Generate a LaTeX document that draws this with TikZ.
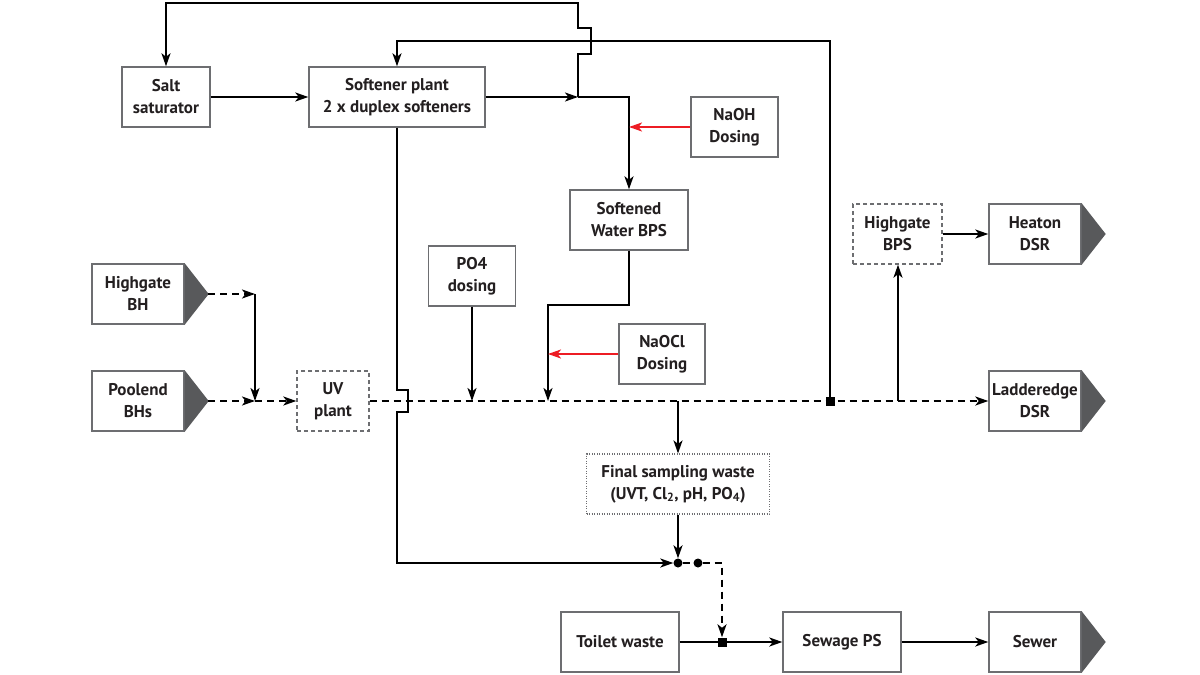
\documentclass[tikz,border=0pt]{standalone}
\usepackage{fontspec}
\setmainfont{PT Sans}
\usetikzlibrary{arrows.meta}
\definecolor{boxgray}{HTML}{6D6E71}
\definecolor{tipgray}{HTML}{58595B}
\definecolor{txt}{HTML}{231F20}
\definecolor{dred}{HTML}{ED1C24}
\begin{document}
\begin{tikzpicture}[x=1pt,y=-1pt,
  lbl/.style={font=\fontsize{17}{22}\selectfont\bfseries, text=txt, align=center, inner sep=0pt},
  box/.style={lbl, draw=boxgray, line width=1.4pt, fill=white, minimum width=#1, minimum height=60pt},
  box/.default=88pt,
  dbox/.style={box=#1, dash pattern=on 4pt off 3pt},
  dbox/.default=72pt,
  dotbox/.style={box=#1, dash pattern=on 1pt off 1.5pt, line width=1.1pt},
  tip/.style={fill=tipgray, draw=none},
  flow/.style={line width=2pt, draw=black, -{Stealth[length=13pt,width=9pt,inset=3.5pt]}},
  plain/.style={line width=2pt, draw=black},
  dflow/.style={flow, dash pattern=on 7pt off 5pt},
  dplain/.style={plain, dash pattern=on 7pt off 5pt},
  rflow/.style={flow, draw=dred, -{Stealth[length=13pt,width=9pt,inset=3.5pt,fill=dred]}},
  sq/.style={fill=black, minimum size=9pt, inner sep=0pt},
  dot/.style={circle, fill=black, minimum size=9pt, inner sep=0pt}
]
\useasboundingbox (0,0) rectangle (1200,675);

% source / sink shapes with tip
\newcommand{\tipat}[1]{\fill[tip] (#1.north east) -- ([xshift=24pt]#1.east) -- (#1.south east) -- cycle;}

\node[box=88pt] (salt) at (166,97) {Salt\\saturator};
\node[box=176pt] (soft) at (397,97) {Softener plant\\2 x duplex softeners};
\node[box=87pt] (naoh) at (734.5,127) {NaOH\\Dosing};
\node[box=118pt] (sbps) at (629,220) {Softened\\Water BPS};
\node[box=87pt] (po4) at (472,276) {PO4\\dosing};
\node[box=86pt] (naocl) at (662,354) {NaOCl\\Dosing};
\node[box=92pt] (hbh) at (138,294) {Highgate\\BH};
\tipat{hbh}
\node[box=92pt] (pbh) at (138,401) {Poolend\\BHs};
\tipat{pbh}
\node[dbox=72pt] (uv) at (333,401) {UV\\plant};
\node[dbox=89pt] (hbps) at (897.5,234) {Highgate\\BPS};
\node[box=92pt] (heat) at (1035,234) {Heaton\\DSR};
\tipat{heat}
\node[box=92pt] (ladd) at (1035,401) {Ladderedge\\DSR};
\tipat{ladd}
\node[dotbox=183pt] (fsw) at (678,484) {Final sampling waste\\(UVT, Cl\textsubscript{2}, pH, PO\textsubscript{4})};
\node[box=118pt] (toil) at (620,642) {Toilet waste};
\node[box=118pt] (sps) at (842,642) {Sewage PS};
\node[box=92pt] (sewer) at (1035,642) {Sewer};
\tipat{sewer}

% junction coordinates
\coordinate (pt) at (208,401);
\coordinate (ht) at (208,294);
\coordinate (j1) at (255,401);
\coordinate (j1t) at (255,294);
\coordinate (j2) at (578,97);
\coordinate (jpo) at (472,401);
\coordinate (jcl) at (548,401);
\coordinate (jcl2) at (548,354);
\coordinate (joh) at (629,127);
\coordinate (jfs) at (678,401);
\coordinate (jhb) at (898,401);
\node[sq] (m4) at (830,401) {};
\node[dot] (d1) at (678,563) {};
\node[dot] (d2) at (698,563) {};
\node[sq] (m5) at (722,642) {};

% main dashed line
\draw[dflow] (pt) -- (j1);
\draw[dflow] (j1) -- (uv.west);
\draw[dflow] (uv.east) -- (ladd.west);
\draw[dflow] (ht) -- (j1t);
\draw[flow] (j1t) -- (j1);

% softener outputs
\draw[flow] (salt.east) -- (soft.west);
\draw[flow] (soft.east) -- (j2);
\draw[flow] (j2) -| (sbps.north);
\draw[rflow] (naoh.west) -- (joh);
\draw[flow] (j2) -- (578,54) -- (591,54) -- (591,28) -- (578,28) -- (578,3) -| (salt.north);
\draw[flow] (m4.center) -- (830,41) -| (soft.north);

% softener drain with hop
\draw[flow] (soft.south) -- (397,390) -- (408,390) -- (408,412) -- (397,412) -- (397,563) -- (d1.west);

% dosing
\draw[flow] (po4.south) -- (jpo);
\draw[flow] (sbps.south) -- (629,305) -| (jcl);
\draw[rflow] (naocl.west) -- (jcl2);

% to Highgate BPS and Heaton
\draw[flow] (jhb) -- (hbps.south -| jhb);
\draw[flow] (hbps.east) -- (heat.west);

% final sampling and waste
\draw[flow] (jfs) -- (fsw.north);
\draw[flow] (fsw.south) -- (d1.north);
\draw[dplain] (d1) -- (d2);
\draw[dflow] (d2) -| (m5.north);
\draw[flow] (toil.east) -- (sps.west);
\node[sq] at (m5) {};
\draw[flow] (sps.east) -- (sewer.west);
\end{tikzpicture}
\end{document}
